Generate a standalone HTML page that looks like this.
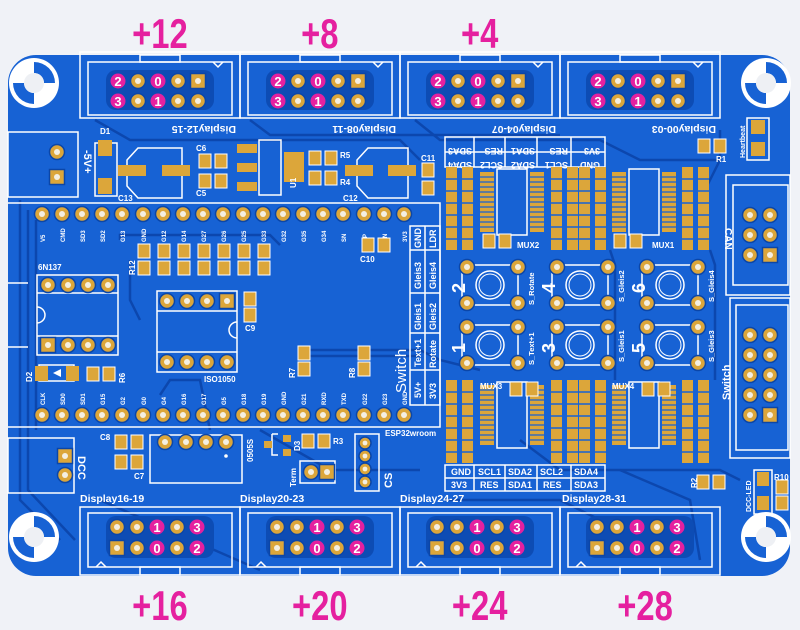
<!DOCTYPE html>
<html><head><meta charset="utf-8"><style>
html,body{margin:0;padding:0;background:#f0f2f7;width:800px;height:630px;overflow:hidden}
svg{display:block}
.s{fill:#fff;font-family:"Liberation Sans",sans-serif;font-weight:bold}
.m{fill:#e5209f;font-family:"Liberation Sans",sans-serif;font-weight:bold;font-size:42px}
.w{stroke:#fff;fill:none;stroke-width:1.5}
.t{stroke:#0c47ae;fill:none;stroke-width:2.5}
.g{fill:#dca63a}
</style></head><body>
<svg width="800" height="630" viewBox="0 0 800 630">
<defs>
<g id="p"><circle r="7.5" fill="#dca63a" stroke="#0b46a8" stroke-width="1.5"/><circle r="3" fill="#f4efe2"/></g>
<g id="q"><rect x="-7.5" y="-7.5" width="15" height="15" fill="#dca63a" stroke="#0b46a8" stroke-width="1.5"/><circle r="3" fill="#f4efe2"/></g>
<g id="sp"><circle r="6" fill="#dca63a" stroke="#0b46a8" stroke-width="1.5"/><circle r="2.4" fill="#f4efe2"/></g>
<g id="mh"><circle r="25" fill="#fff"/><path d="M0,-21 A21,21 0 0 1 21,0 L10,0 A10,10 0 0 0 0,-10Z M0,21 A21,21 0 0 1 -21,0 L-10,0 A10,10 0 0 0 0,10Z" fill="#1762d4"/><circle r="10" fill="#eef0f4"/></g>
<g id="pd"><rect x="-6" y="-7" width="12" height="14" fill="#dca63a" stroke="#fff" stroke-width="1"/></g>
<g id="btn"><rect x="-28" y="-20" width="56" height="40" class="w" stroke-width="1"/><circle r="14" fill="none" stroke="#fff" stroke-width="1.5"/><circle r="11" fill="none" stroke="#fff" stroke-width="1"/>
<use href="#p" x="-23" y="-18"/><use href="#p" x="28" y="-18"/><use href="#p" x="-23" y="18"/><use href="#p" x="28" y="18"/></g>
<g id="strip"><rect x="0" y="0" width="11" height="83" class="g"/><path d="M0,12H11M0,24H11M0,36H11M0,48H11M0,60H11M0,72H11" stroke="#1762d4" stroke-width="1.5"/></g>
<g id="soic"><g fill="#dca63a"><rect x="0" y="0" width="14" height="60"/><rect x="50" y="0" width="14" height="60"/></g>
<path d="M0,5H14M0,10H14M0,15H14M0,20H14M0,25H14M0,30H14M0,35H14M0,40H14M0,45H14M0,50H14M0,55H14M50,5H64M50,10H64M50,15H64M50,20H64M50,25H64M50,30H64M50,35H64M50,40H64M50,45H64M50,50H64M50,55H64" stroke="#1762d4" stroke-width="1.2"/>
<rect x="17" y="-3" width="30" height="66" class="w"/></g>
</defs>
<rect x="8" y="55" width="782" height="521" rx="28" fill="#1762d4"/>
<g class="t">
<path d="M95,120 L130,140 L400,140 L420,160"/><path d="M250,120 L270,135 L560,135"/><path d="M415,120 L440,140 L600,140 L640,160 L720,160"/>
<path d="M20,200 L20,500 L60,540"/><path d="M28,210 L28,490 L75,540"/><path d="M36,220 L36,430"/>
<path d="M120,240 L120,235 L270,235 L280,245"/><path d="M130,260 L130,300 L140,320"/>
<path d="M160,395 L170,380 L200,380 L210,430"/><path d="M300,350 L420,350 L440,360 L480,370"/><path d="M300,356 L420,356"/>
<path d="M445,500 L560,500 L600,520"/><path d="M520,440 L560,470 L720,470 L740,480"/><path d="M700,200 L720,160 L720,130"/>
<path d="M620,470 L690,500 L700,560"/><path d="M100,500 L260,570"/><path d="M260,430 L330,470 L420,470"/>
<path d="M610,250 L615,265 L615,380"/><path d="M710,250 L715,265 L715,380"/>
</g>
<use href="#mh" x="34" y="83"/><use href="#mh" x="766" y="83"/><use href="#mh" x="34" y="537"/><use href="#mh" x="766" y="537"/>
<g transform="scale(0.78,1)">
<text class="m" x="205" y="48" text-anchor="middle">+12</text>
<text class="m" x="410" y="48" text-anchor="middle">+8</text>
<text class="m" x="615" y="48" text-anchor="middle">+4</text>
<text class="m" x="205" y="620" text-anchor="middle">+16</text>
<text class="m" x="410" y="620" text-anchor="middle">+20</text>
<text class="m" x="615" y="620" text-anchor="middle">+24</text>
<text class="m" x="827" y="620" text-anchor="middle">+28</text>
</g>
<g id="tc">
<rect x="80" y="52" width="160" height="66" class="w"/>
<rect x="88" y="62" width="144" height="53" class="w"/>
<rect x="140" y="55" width="40" height="7" class="w" fill="#1762d4"/>
<path d="M213,62 L218,67 L223,62" class="w"/>
<rect x="106" y="70" width="108" height="40" rx="10" fill="#0d4cb4"/>
<circle cx="118" cy="81" r="7.5" fill="#e5209f"/><text class="s" x="118" y="86" font-size="13" text-anchor="middle">2</text>
<use href="#p" x="138" y="81"/>
<circle cx="158" cy="81" r="7.5" fill="#e5209f"/><text class="s" x="158" y="86" font-size="13" text-anchor="middle">0</text>
<use href="#p" x="178" y="81"/><use href="#q" x="198" y="81"/>
<circle cx="118" cy="101" r="7.5" fill="#e5209f"/><text class="s" x="118" y="106" font-size="13" text-anchor="middle">3</text>
<use href="#p" x="138" y="101"/>
<circle cx="158" cy="101" r="7.5" fill="#e5209f"/><text class="s" x="158" y="106" font-size="13" text-anchor="middle">1</text>
<use href="#p" x="178" y="101"/><use href="#p" x="198" y="101"/>
</g>
<use href="#tc" x="160"/><use href="#tc" x="320"/><use href="#tc" x="480"/>
<g class="s" font-size="10.5">
<text transform="translate(236,126) rotate(180)">Display12-15</text>
<text transform="translate(396,126) rotate(180)">Display08-11</text>
<text transform="translate(556,126) rotate(180)">Display04-07</text>
<text transform="translate(716,126) rotate(180)">Display00-03</text>
<text x="80" y="502">Display16-19</text><text x="240" y="502">Display20-23</text>
<text x="400" y="502">Display24-27</text><text x="562" y="502">Display28-31</text>
</g>
<g id="bc">
<rect x="80" y="507" width="160" height="68" class="w"/>
<rect x="88" y="513" width="144" height="54" class="w"/>
<rect x="140" y="567" width="40" height="8" class="w" fill="#1762d4"/>
<path d="M96,567 L101,562 L106,567" class="w"/>
<rect x="106" y="516" width="108" height="42" rx="10" fill="#0d4cb4"/>
<use href="#p" x="117" y="527"/><use href="#p" x="137" y="527"/>
<circle cx="157" cy="527" r="7.5" fill="#e5209f"/><text class="s" x="157" y="532" font-size="13" text-anchor="middle">1</text>
<use href="#p" x="177" y="527"/>
<circle cx="197" cy="527" r="7.5" fill="#e5209f"/><text class="s" x="197" y="532" font-size="13" text-anchor="middle">3</text>
<use href="#q" x="117" y="548"/><use href="#p" x="137" y="548"/>
<circle cx="157" cy="548" r="7.5" fill="#e5209f"/><text class="s" x="157" y="553" font-size="13" text-anchor="middle">0</text>
<use href="#p" x="177" y="548"/>
<circle cx="197" cy="548" r="7.5" fill="#e5209f"/><text class="s" x="197" y="553" font-size="13" text-anchor="middle">2</text>
</g>
<use href="#bc" x="160"/><use href="#bc" x="320"/><use href="#bc" x="480"/>
<rect x="8" y="132" width="70" height="65" class="w"/>
<use href="#p" x="57" y="152"/><use href="#q" x="57" y="177"/>
<text class="s" font-size="11" transform="translate(84,150) rotate(90)">-5V+</text>
<rect x="95" y="143" width="22" height="53" class="w" stroke-width="1"/>
<rect x="98" y="140" width="14" height="16" class="g"/><rect x="98" y="178" width="14" height="16" class="g"/>
<text class="s" font-size="8" x="100" y="134">D1</text>
<path d="M138,148 H182 V198 H138 L127,186 V160Z" class="w" stroke-width="1"/>
<rect x="118" y="165" width="28" height="11" class="g"/><rect x="162" y="165" width="28" height="11" class="g"/>
<text class="s" font-size="8" x="118" y="201">C13</text>
<use href="#pd" x="205" y="161"/><use href="#pd" x="221" y="161"/><use href="#pd" x="205" y="181"/><use href="#pd" x="221" y="181"/>
<text class="s" font-size="8" x="196" y="151">C6</text><text class="s" font-size="8" x="196" y="196">C5</text>
<rect x="237" y="144" width="20" height="9" class="g"/><rect x="237" y="163" width="20" height="9" class="g"/><rect x="237" y="182" width="20" height="9" class="g"/>
<rect x="259" y="140" width="22" height="55" class="w" stroke-width="1"/>
<rect x="284" y="152" width="20" height="30" class="g"/>
<text class="s" font-size="8" transform="translate(296,188) rotate(-90)">U1</text>
<use href="#pd" x="315" y="158"/><use href="#pd" x="331" y="158"/><use href="#pd" x="315" y="178"/><use href="#pd" x="331" y="178"/>
<text class="s" font-size="8" x="340" y="158">R5</text><text class="s" font-size="8" x="340" y="185">R4</text>
<path d="M368,148 H408 V198 H368 L357,186 V160Z" class="w" stroke-width="1"/>
<rect x="345" y="165" width="28" height="11" class="g"/><rect x="388" y="165" width="28" height="11" class="g"/>
<text class="s" font-size="8" x="343" y="201">C12</text>
<use href="#pd" x="428" y="170"/><use href="#pd" x="428" y="188"/><text class="s" font-size="8" x="421" y="161">C11</text>
<path d="M8,203 H440 V427 H8" class="w"/>
<g id="row">
<use href="#p" x="42" y="214"/><use href="#p" x="62" y="214"/><use href="#p" x="82" y="214"/><use href="#p" x="102" y="214"/><use href="#p" x="122" y="214"/><use href="#p" x="143" y="214"/><use href="#p" x="163" y="214"/><use href="#p" x="183" y="214"/><use href="#p" x="203" y="214"/><use href="#p" x="223" y="214"/><use href="#p" x="243" y="214"/><use href="#p" x="263" y="214"/><use href="#p" x="283" y="214"/><use href="#p" x="303" y="214"/><use href="#p" x="323" y="214"/><use href="#p" x="343" y="214"/><use href="#p" x="364" y="214"/><use href="#p" x="384" y="214"/><use href="#p" x="404" y="214"/>
</g>
<use href="#row" y="201"/>
<g class="s" font-size="6">
<g transform="translate(45,242) rotate(-90)"><text>V5</text></g><g transform="translate(65,242) rotate(-90)"><text>CMD</text></g><g transform="translate(85,242) rotate(-90)"><text>SD3</text></g><g transform="translate(105,242) rotate(-90)"><text>SD2</text></g><g transform="translate(125,242) rotate(-90)"><text>G13</text></g><g transform="translate(146,242) rotate(-90)"><text>GND</text></g><g transform="translate(166,242) rotate(-90)"><text>G12</text></g><g transform="translate(186,242) rotate(-90)"><text>G14</text></g><g transform="translate(206,242) rotate(-90)"><text>G27</text></g><g transform="translate(226,242) rotate(-90)"><text>G26</text></g><g transform="translate(246,242) rotate(-90)"><text>G25</text></g><g transform="translate(266,242) rotate(-90)"><text>G33</text></g><g transform="translate(286,242) rotate(-90)"><text>G32</text></g><g transform="translate(306,242) rotate(-90)"><text>G35</text></g><g transform="translate(326,242) rotate(-90)"><text>G34</text></g><g transform="translate(346,242) rotate(-90)"><text>SN</text></g><g transform="translate(367,242) rotate(-90)"><text>SP</text></g><g transform="translate(387,242) rotate(-90)"><text>EN</text></g><g transform="translate(407,242) rotate(-90)"><text>3V3</text></g>
<g transform="translate(45,405) rotate(-90)"><text>CLK</text></g><g transform="translate(65,405) rotate(-90)"><text>SD0</text></g><g transform="translate(85,405) rotate(-90)"><text>SD1</text></g><g transform="translate(105,405) rotate(-90)"><text>G15</text></g><g transform="translate(125,405) rotate(-90)"><text>G2</text></g><g transform="translate(146,405) rotate(-90)"><text>G0</text></g><g transform="translate(166,405) rotate(-90)"><text>G4</text></g><g transform="translate(186,405) rotate(-90)"><text>G16</text></g><g transform="translate(206,405) rotate(-90)"><text>G17</text></g><g transform="translate(226,405) rotate(-90)"><text>G5</text></g><g transform="translate(246,405) rotate(-90)"><text>G18</text></g><g transform="translate(266,405) rotate(-90)"><text>G19</text></g><g transform="translate(286,405) rotate(-90)"><text>GND</text></g><g transform="translate(306,405) rotate(-90)"><text>G21</text></g><g transform="translate(326,405) rotate(-90)"><text>RXD</text></g><g transform="translate(346,405) rotate(-90)"><text>TXD</text></g><g transform="translate(367,405) rotate(-90)"><text>G22</text></g><g transform="translate(387,405) rotate(-90)"><text>G23</text></g><g transform="translate(407,405) rotate(-90)"><text>GND</text></g>
</g>
<g id="r12"><use href="#pd" x="144" y="251"/><use href="#pd" x="164" y="251"/><use href="#pd" x="184" y="251"/><use href="#pd" x="204" y="251"/><use href="#pd" x="224" y="251"/><use href="#pd" x="244" y="251"/><use href="#pd" x="264" y="251"/></g>
<use href="#r12" y="17"/>
<text class="s" font-size="8" transform="translate(135,275) rotate(-90)">R12</text>
<use href="#pd" x="368" y="245"/><use href="#pd" x="384" y="245"/><text class="s" font-size="8" x="360" y="262">C10</text>
<rect x="410" y="226" width="30" height="179" class="w" stroke-width="1"/>
<path d="M425,226V405M410,250H440M410,293H440M410,333H440M410,370H440" class="w" stroke-width="1"/>
<g class="s" font-size="9">
<g transform="translate(421,248) rotate(-90)"><text>GND</text></g><g transform="translate(436,248) rotate(-90)"><text>LDR</text></g>
<g transform="translate(421,289) rotate(-90)"><text>Gleis3</text></g><g transform="translate(436,289) rotate(-90)"><text>Gleis4</text></g>
<g transform="translate(421,330) rotate(-90)"><text>Gleis1</text></g><g transform="translate(436,330) rotate(-90)"><text>Gleis2</text></g>
<g transform="translate(421,367) rotate(-90)"><text>Text+1</text></g><g transform="translate(436,368) rotate(-90)"><text>Rotate</text></g>
<g transform="translate(421,398) rotate(-90)"><text>5V+</text></g><g transform="translate(436,399) rotate(-90)"><text>3V3</text></g>
<g transform="translate(406,393) rotate(-90)"><text font-size="15" font-weight="normal">Switch</text></g>
</g>
<text class="s" font-size="8" x="385" y="436">ESP32wroom</text>
<rect x="37" y="275" width="81" height="80" class="w" stroke-width="1"/><path d="M37,293H118M37,336H118" class="w" stroke-width="1"/>
<path d="M37,307 A8,8 0 0 1 37,323" class="w" stroke-width="1"/>
<path d="M8,283H28M8,347H28" class="w" stroke-width="1"/>
<use href="#p" x="48" y="285"/><use href="#p" x="68" y="285"/><use href="#p" x="88" y="285"/><use href="#p" x="108" y="285"/>
<use href="#q" x="48" y="345"/><use href="#p" x="68" y="345"/><use href="#p" x="88" y="345"/><use href="#p" x="108" y="345"/>
<text class="s" font-size="8" x="38" y="270">6N137</text>
<rect x="157" y="291" width="80" height="81" class="w" stroke-width="1"/><path d="M157,311H237M157,352H237" class="w" stroke-width="1"/>
<path d="M237,322 A8,8 0 0 0 237,338" class="w" stroke-width="1"/>
<use href="#p" x="167" y="301"/><use href="#p" x="187" y="301"/><use href="#p" x="207" y="301"/><use href="#q" x="227" y="301"/>
<use href="#p" x="167" y="362"/><use href="#p" x="187" y="362"/><use href="#p" x="207" y="362"/><use href="#p" x="227" y="362"/>
<text class="s" font-size="8" x="204" y="382">ISO1050</text>
<use href="#pd" x="250" y="299"/><use href="#pd" x="250" y="315"/><text class="s" font-size="8" x="245" y="331">C9</text>
<rect x="39" y="365" width="35" height="16" class="w" stroke-width="1"/>
<rect x="35" y="366" width="13" height="15" class="g"/><rect x="66" y="366" width="13" height="15" class="g"/>
<path d="M53,373L61,369V377Z" fill="#fff"/>
<text class="s" font-size="8" transform="translate(32,382) rotate(-90)">D2</text>
<use href="#pd" x="93" y="374"/><use href="#pd" x="109" y="374"/><text class="s" font-size="8" transform="translate(125,383) rotate(-90)">R6</text>
<use href="#pd" x="304" y="353"/><use href="#pd" x="304" y="369"/><text class="s" font-size="8" transform="translate(295,378) rotate(-90)">R7</text>
<use href="#pd" x="364" y="353"/><use href="#pd" x="364" y="369"/><text class="s" font-size="8" transform="translate(355,378) rotate(-90)">R8</text>
<rect x="8" y="438" width="66" height="55" class="w"/>
<use href="#q" x="65" y="456"/><use href="#p" x="65" y="475"/>
<text class="s" font-size="11" transform="translate(78,456) rotate(90)">DCC</text>
<use href="#pd" x="121" y="442"/><use href="#pd" x="137" y="442"/><use href="#pd" x="121" y="462"/><use href="#pd" x="137" y="462"/>
<text class="s" font-size="8" x="100" y="440">C8</text><text class="s" font-size="8" x="134" y="479">C7</text>
<rect x="150" y="435" width="92" height="48" class="w" stroke-width="1"/>
<use href="#p" x="165" y="442"/><use href="#p" x="186" y="442"/><use href="#p" x="206" y="442"/><use href="#p" x="226" y="442"/>
<circle cx="226" cy="456" r="1.8" fill="#fff"/>
<text class="s" font-size="8" transform="translate(253,462) rotate(-90)">0505S</text>
<path d="M272,434H278M272,434V455H278" class="w" stroke-width="1"/>
<rect x="283" y="435" width="8" height="7" class="g"/><rect x="283" y="449" width="8" height="7" class="g"/><rect x="264" y="441" width="8" height="7" class="g"/>
<text class="s" font-size="8" transform="translate(300,451) rotate(-90)">D3</text>
<use href="#pd" x="308" y="441"/><use href="#pd" x="324" y="441"/><text class="s" font-size="8" x="333" y="444">R3</text>
<rect x="300" y="461" width="35" height="22" class="w" stroke-width="1"/>
<use href="#p" x="311" y="472"/><use href="#q" x="327" y="472"/>
<text class="s" font-size="8" transform="translate(296,487) rotate(-90)">Term</text>
<rect x="355" y="434" width="24" height="57" class="w" stroke-width="1"/>
<use href="#sp" x="365" y="443"/><use href="#sp" x="365" y="456"/><use href="#sp" x="365" y="469"/><use href="#sp" x="365" y="482"/>
<text class="s" font-size="11" transform="translate(392,488) rotate(-90)">CS</text>
<rect x="445" y="137" width="160" height="30" class="w" stroke-width="1"/>
<path d="M445,152H605M474,137V167M505,137V167M537,137V167M571,137V167" class="w" stroke-width="1"/>
<g class="s" font-size="9">
<text transform="translate(472,148) rotate(180)">SDA3</text><text transform="translate(503,148) rotate(180)">RES</text><text transform="translate(535,148) rotate(180)">SDA1</text><text transform="translate(568,148) rotate(180)">RES</text><text transform="translate(600,148) rotate(180)">3V3</text>
<text transform="translate(472,162) rotate(180)">SDA4</text><text transform="translate(503,162) rotate(180)">SCL2</text><text transform="translate(535,162) rotate(180)">SDA2</text><text transform="translate(568,162) rotate(180)">SCL1</text><text transform="translate(600,162) rotate(180)">GND</text>
</g>
<g id="mt">
<use href="#strip" x="446" y="167"/><use href="#strip" x="462" y="167"/>
<use href="#soic" x="480" y="172"/>
<use href="#strip" x="551" y="167"/><use href="#strip" x="567" y="167"/><use href="#strip" x="579" y="167"/><use href="#strip" x="595" y="167"/>
<use href="#soic" x="612" y="172"/>
<use href="#strip" x="682" y="167"/><use href="#strip" x="698" y="167"/>
</g>
<use href="#mt" y="213"/>
<use href="#pd" x="489" y="241"/><use href="#pd" x="505" y="241"/><text class="s" font-size="8" x="517" y="248">MUX2</text>
<use href="#pd" x="620" y="241"/><use href="#pd" x="636" y="241"/><text class="s" font-size="8" x="652" y="248">MUX1</text>
<use href="#pd" x="516" y="389"/><use href="#pd" x="532" y="389"/><text class="s" font-size="8" x="480" y="389">MUX3</text>
<use href="#pd" x="648" y="389"/><use href="#pd" x="664" y="389"/><text class="s" font-size="8" x="612" y="389">MUX4</text>
<rect x="445" y="465" width="160" height="26" class="w" stroke-width="1"/>
<path d="M445,478H605M474,465V491M505,465V491M537,465V491M571,465V491" class="w" stroke-width="1"/>
<g class="s" font-size="9">
<text x="451" y="475">GND</text><text x="478" y="475">SCL1</text><text x="508" y="475">SDA2</text><text x="540" y="475">SCL2</text><text x="574" y="475">SDA4</text>
<text x="451" y="488">3V3</text><text x="480" y="488">RES</text><text x="508" y="488">SDA1</text><text x="543" y="488">RES</text><text x="574" y="488">SDA3</text>
</g>
<use href="#btn" x="490" y="285"/><use href="#btn" x="580" y="285"/><use href="#btn" x="670" y="285"/>
<use href="#btn" x="490" y="345"/><use href="#btn" x="580" y="345"/><use href="#btn" x="670" y="345"/>
<g class="s" font-size="18" font-weight="normal">
<text transform="translate(465,293) rotate(-90)">2</text><text transform="translate(555,293) rotate(-90)">4</text><text transform="translate(645,293) rotate(-90)">6</text>
<text transform="translate(465,353) rotate(-90)">1</text><text transform="translate(555,353) rotate(-90)">3</text><text transform="translate(645,353) rotate(-90)">5</text>
</g>
<g class="s" font-size="7.5" font-weight="normal">
<text transform="translate(534,305) rotate(-90)">S_Rotate</text><text transform="translate(624,302) rotate(-90)">S_Gleis2</text><text transform="translate(714,302) rotate(-90)">S_Gleis4</text>
<text transform="translate(534,365) rotate(-90)">S_Text+1</text><text transform="translate(624,362) rotate(-90)">S_Gleis1</text><text transform="translate(714,362) rotate(-90)">S_Gleis3</text>
</g>
<use href="#pd" x="704" y="146"/><use href="#pd" x="720" y="146"/><text class="s" font-size="8" x="716" y="162">R1</text>
<rect x="747" y="118" width="22" height="42" class="w" stroke-width="1"/><rect x="751" y="120" width="14" height="14" class="g"/><rect x="751" y="142" width="14" height="14" class="g"/>
<text class="s" font-size="7" transform="translate(745,158) rotate(-90)">Heartbeat</text>
<rect x="726" y="175" width="64" height="120" class="w"/><rect x="733" y="185" width="55" height="100" class="w" stroke-width="1"/>
<use href="#p" x="750" y="215"/><use href="#p" x="770" y="215"/><use href="#p" x="750" y="235"/><use href="#p" x="770" y="235"/><use href="#p" x="750" y="255"/><use href="#q" x="770" y="255"/>
<text class="s" font-size="10" transform="translate(725,228) rotate(90)">CAN</text>
<rect x="730" y="298" width="60" height="160" class="w"/><rect x="736" y="305" width="52" height="145" class="w" stroke-width="1"/>
<use href="#p" x="750" y="335"/><use href="#p" x="770" y="335"/><use href="#p" x="750" y="355"/><use href="#p" x="770" y="355"/><use href="#p" x="750" y="375"/><use href="#p" x="770" y="375"/><use href="#p" x="750" y="395"/><use href="#p" x="770" y="395"/><use href="#p" x="750" y="415"/><use href="#q" x="770" y="415"/>
<text class="s" font-size="11" transform="translate(730,400) rotate(-90)">Switch</text>
<use href="#pd" x="703" y="482"/><use href="#pd" x="719" y="482"/><text class="s" font-size="8" transform="translate(697,488) rotate(-90)">R2</text>
<rect x="754" y="470" width="18" height="44" class="w" stroke-width="1"/><rect x="757" y="472" width="12" height="14" class="g"/><rect x="757" y="496" width="12" height="14" class="g"/>
<text class="s" font-size="7" transform="translate(751,512) rotate(-90)">DCC-LED</text>
<use href="#pd" x="782" y="487"/><use href="#pd" x="782" y="503"/><text class="s" font-size="8" x="774" y="480">R10</text>
</svg>
</body></html>
